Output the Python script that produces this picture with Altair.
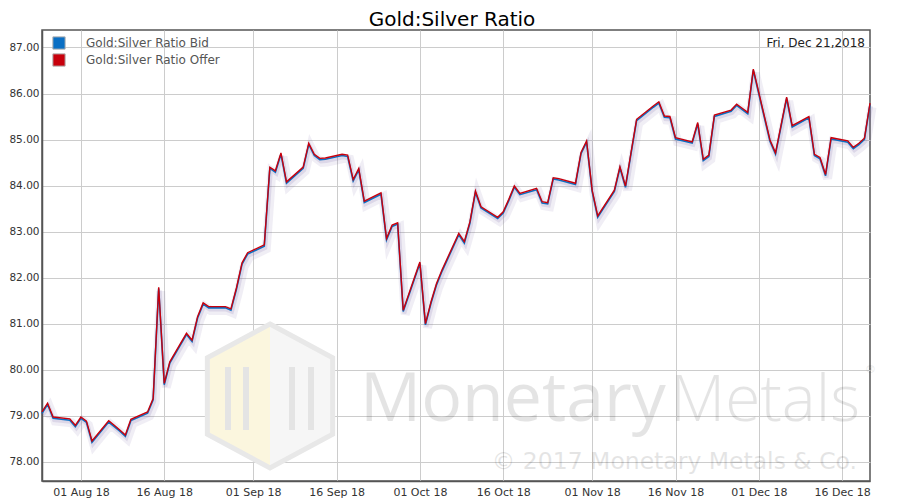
import pandas as pd
import altair as alt

# trading days
dates = [
    "2018-07-25", "2018-07-26", "2018-07-27", "2018-07-30", "2018-07-31",
    "2018-08-01", "2018-08-02", "2018-08-03", "2018-08-06", "2018-08-07",
    "2018-08-08", "2018-08-09", "2018-08-10", "2018-08-13", "2018-08-14",
    "2018-08-15", "2018-08-16", "2018-08-17", "2018-08-20", "2018-08-21",
    "2018-08-22", "2018-08-23", "2018-08-24", "2018-08-27", "2018-08-28",
    "2018-08-29", "2018-08-30", "2018-08-31", "2018-09-03", "2018-09-04",
    "2018-09-05", "2018-09-06", "2018-09-07", "2018-09-10", "2018-09-11",
    "2018-09-12", "2018-09-13", "2018-09-14", "2018-09-17", "2018-09-18",
    "2018-09-19", "2018-09-20", "2018-09-21", "2018-09-24", "2018-09-25",
    "2018-09-26", "2018-09-27", "2018-09-28", "2018-10-01", "2018-10-02",
    "2018-10-03", "2018-10-04", "2018-10-05", "2018-10-08", "2018-10-09",
    "2018-10-10", "2018-10-11", "2018-10-12", "2018-10-15", "2018-10-16",
    "2018-10-17", "2018-10-18", "2018-10-19", "2018-10-22", "2018-10-23",
    "2018-10-24", "2018-10-25", "2018-10-26", "2018-10-29", "2018-10-30",
    "2018-10-31", "2018-11-01", "2018-11-02", "2018-11-05", "2018-11-06",
    "2018-11-07", "2018-11-08", "2018-11-09", "2018-11-12", "2018-11-13",
    "2018-11-14", "2018-11-15", "2018-11-16", "2018-11-19", "2018-11-20",
    "2018-11-21", "2018-11-22", "2018-11-23", "2018-11-26", "2018-11-27",
    "2018-11-28", "2018-11-29", "2018-11-30", "2018-12-03", "2018-12-04",
    "2018-12-06", "2018-12-07", "2018-12-10", "2018-12-11", "2018-12-12",
    "2018-12-13", "2018-12-14", "2018-12-17", "2018-12-18", "2018-12-19",
    "2018-12-20", "2018-12-21",
]
ratio = [
    79.08, 79.27, 78.97, 78.93, 78.79,
    78.97, 78.88, 78.45, 78.89, 78.79,
    78.69, 78.58, 78.92, 79.08, 79.37,
    81.79, 79.70, 80.17, 80.79, 80.64,
    81.15, 81.45, 81.37, 81.37, 81.32,
    81.78, 82.32, 82.54, 82.71, 84.40,
    84.32, 84.71, 84.08, 84.40, 84.92,
    84.68, 84.59, 84.60, 84.68, 84.66,
    84.13, 84.37, 83.66, 83.84, 82.85,
    83.14, 83.19, 81.29, 82.34, 81.00,
    81.47, 81.87, 82.17, 82.96, 82.78,
    83.21, 83.88, 83.54, 83.31, 83.43,
    83.70, 83.99, 83.83, 83.94, 83.65,
    83.63, 84.17, 84.15, 84.05, 84.72,
    84.97, 83.90, 83.34, 83.90, 84.41,
    83.99, 84.72, 85.44, 85.73, 85.82,
    85.51, 85.50, 85.04, 84.95, 85.37,
    84.57, 84.66, 85.53, 85.64, 85.77,
    85.68, 85.59, 86.53, 84.99, 84.71,
    85.92, 85.30, 85.50, 84.68, 84.61,
    84.24, 85.04, 84.97, 84.83, 84.92,
    85.03, 85.79,
]
series_names = ["Gold:Silver Ratio Bid", "Gold:Silver Ratio Offer"]
series_colors = ["#0a6fc4", "#c8000c"]
y_ticks = [78, 79, 80, 81, 82, 83, 84, 85, 86, 87]
x_ticks = [(8, 1), (8, 16), (9, 1), (9, 16), (10, 1), (10, 16),
           (11, 1), (11, 16), (12, 1), (12, 16)]

df = pd.DataFrame({"date": pd.to_datetime(dates), "ratio": ratio})
bid = df.assign(series=series_names[0])
offer = df.assign(series=series_names[1])
one = pd.DataFrame({"k": [0]})

x_enc = alt.X(
    "date:T",
    scale=alt.Scale(domain=[alt.DateTime(year=2018, month=7, date=25),
                            alt.DateTime(year=2018, month=12, date=21)], nice=False),
    axis=alt.Axis(values=[alt.DateTime(year=2018, month=m, date=d) for m, d in x_ticks],
                  format="%d %b %y", title=None, labelFlush=False),
)
y_enc = alt.Y(
    "ratio:Q",
    scale=alt.Scale(domain=[77.58, 87.38], nice=False, zero=False),
    axis=alt.Axis(values=y_ticks, format=".2f", title=None),
)
stroke_scale = alt.Scale(domain=series_names, range=series_colors)

# watermark
hexagon = "M0,-1 L0.87,-0.53 L0.87,0.53 L0,1 L-0.87,0.53 L-0.87,-0.53 Z"
left_half = "M0,-1 L-0.87,-0.53 L-0.87,0.53 L0,1 Z"
right_half = "M0,-1 L0.87,-0.53 L0.87,0.53 L0,1 Z"


def logo_part(path, fill, stroke="none", sw=0):
    return alt.Chart(one).mark_point(
        shape=path, size=20736, filled=fill != "none", fill=fill,
        stroke=stroke, strokeWidth=sw, opacity=1
    ).encode(x=alt.value(228), y=alt.value(366))


def logo_bar(px):
    return alt.Chart(one).mark_rule(color="#e4e4e4", strokeWidth=6).encode(
        x=alt.value(px), y=alt.value(337), y2=alt.value(400))


def wm_text(txt, px, py, size, font="Open Sans", weight="normal", align="left"):
    return alt.Chart(one).mark_text(
        text=txt, font=font, fontSize=size, fontWeight=weight, align=align,
        baseline="alphabetic", color="#000", opacity=0.1
    ).encode(x=alt.value(px), y=alt.value(py))


watermark = alt.layer(
    logo_part(left_half, "#fbf6de"),
    logo_part(right_half, "#f6f6f6"),
    logo_part(hexagon, "none", "#e8e8e8", 5),
    logo_bar(186), logo_bar(204), logo_bar(250), logo_bar(269),
    wm_text("Monetary", 318, 391, 68),
    wm_text("Metals", 628, 391, 64, weight=300),
    wm_text("®", 823, 343, 11, font="DejaVu Sans"),
    wm_text("© 2017 Monetary Metals & Co.", 815, 439, 23.5, font="DejaVu Sans", align="right"),
)

base = alt.Chart(df).encode(x=x_enc, y=y_enc)
shadow_wide = base.mark_line(color="#6a5aa0", strokeWidth=9, opacity=0.1, xOffset=2, yOffset=4)
shadow_narrow = base.mark_line(color="#6a5aa0", strokeWidth=4, opacity=0.15, xOffset=1, yOffset=3)

bid_line = alt.Chart(bid).mark_line(strokeWidth=1.6, yOffset=1.3).encode(
    x=x_enc, y=y_enc, stroke=alt.Stroke("series:N", scale=stroke_scale, legend=None))
offer_line = alt.Chart(offer).mark_line(strokeWidth=1.4).encode(
    x=x_enc, y=y_enc, stroke=alt.Stroke("series:N", scale=stroke_scale, legend=None))


# legend drawn by hand in the top-left corner of the plot
def legend_row(i):
    row = pd.DataFrame({"name": [series_names[i]]})
    sym = alt.Chart(row).mark_square(
        size=150, fill=series_colors[i], stroke="#b0b0b0", strokeWidth=1, opacity=1
    ).encode(x=alt.value(17), y=alt.value(13 + 17 * i))
    lab = alt.Chart(row).mark_text(
        align="left", baseline="middle", fontSize=12, color="#555"
    ).encode(x=alt.value(44), y=alt.value(13 + 17 * i), text="name:N")
    return sym + lab


stamp = pd.Timestamp(dates[-1]).strftime("%a, %b %d,%Y")
date_label = alt.Chart(one).mark_text(
    text=stamp, align="right", baseline="alphabetic", fontSize=12, color="#222"
).encode(x=alt.value(823), y=alt.value(16.5))

chart = alt.layer(
    watermark, shadow_wide, shadow_narrow, bid_line, offer_line,
    legend_row(0), legend_row(1), date_label
).properties(
    width=828, height=451,
    padding={"left": 34, "top": 22, "right": 22, "bottom": 17},
    autosize=alt.AutoSizeParams(type="none"),
    title=alt.TitleParams("Gold:Silver Ratio", fontSize=20, fontWeight="normal",
                          color="#000", offset=0, frame="group", dx=-4),
).configure(
    font="DejaVu Sans"
).configure_axis(
    labelFontSize=10.5, labelColor="#333", ticks=False, labelPadding=3,
    gridColor="#cccccc", gridWidth=1, domainColor="#555", domainWidth=1.5,
).configure_axisX(
    labelFontSize=11, labelPadding=5
).configure_view(
    stroke="#555", strokeWidth=1.5
)

chart.save("out.html", embed_options={"renderer": "svg", "actions": False})
